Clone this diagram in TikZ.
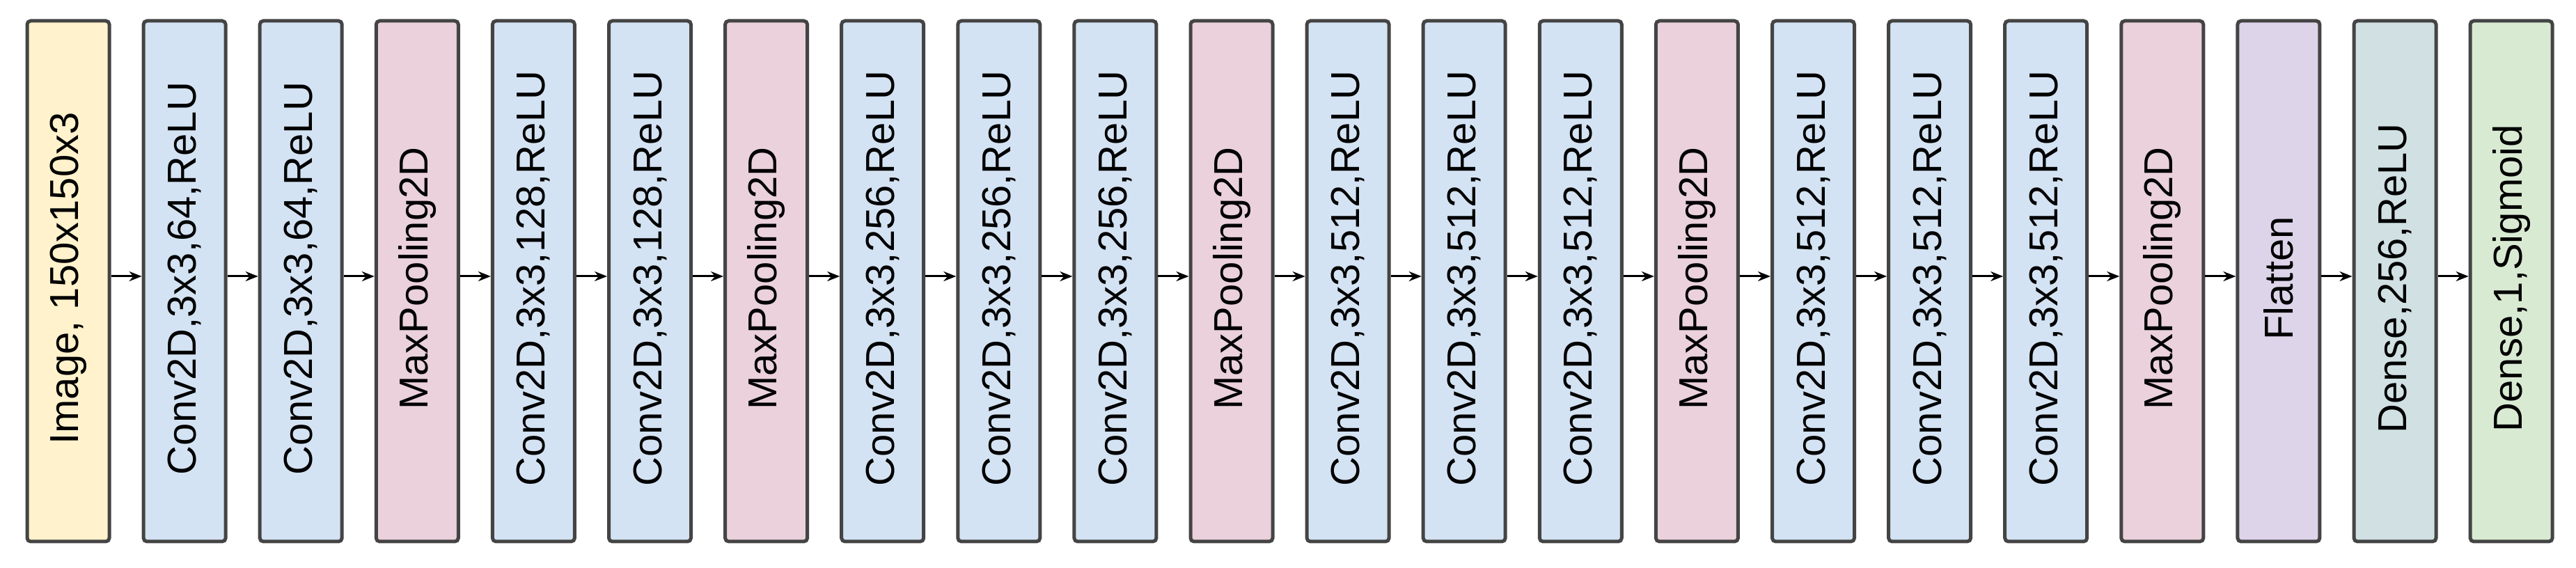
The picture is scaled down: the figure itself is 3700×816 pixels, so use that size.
\documentclass[tikz,border=0pt]{standalone}
\usepackage{fontspec}
\setmainfont{Liberation Sans}
\usetikzlibrary{arrows.meta}
\definecolor{cimg}{HTML}{FFF2CC}
\definecolor{cconv}{HTML}{D4E3F3}
\definecolor{cpool}{HTML}{EAD1DC}
\definecolor{cflat}{HTML}{DDD4EA}
\definecolor{cdr}{HTML}{D0E0E3}
\definecolor{cds}{HTML}{D9EAD3}
\definecolor{cbord}{HTML}{444444}
\begin{document}
\begin{tikzpicture}[x=1pt,y=1pt,
  blk/.style={draw=cbord,line width=5pt,rounded corners=5pt,minimum width=118pt,minimum height=748pt,inner sep=0pt},
  lbl/.style={rotate=90,font=\fontsize{58}{62}\selectfont},
  arr/.style={line width=3pt,-{Stealth[length=18pt,width=14pt]}}]
\useasboundingbox (0,0) rectangle (3700,816);
\def\layers{cimg/{Image, 150x150x3},cconv/{Conv2D,3x3,64,ReLU},cconv/{Conv2D,3x3,64,ReLU},cpool/MaxPooling2D,cconv/{Conv2D,3x3,128,ReLU},cconv/{Conv2D,3x3,128,ReLU},cpool/MaxPooling2D,cconv/{Conv2D,3x3,256,ReLU},cconv/{Conv2D,3x3,256,ReLU},cconv/{Conv2D,3x3,256,ReLU},cpool/MaxPooling2D,cconv/{Conv2D,3x3,512,ReLU},cconv/{Conv2D,3x3,512,ReLU},cconv/{Conv2D,3x3,512,ReLU},cpool/MaxPooling2D,cconv/{Conv2D,3x3,512,ReLU},cconv/{Conv2D,3x3,512,ReLU},cconv/{Conv2D,3x3,512,ReLU},cpool/MaxPooling2D,cflat/Flatten,cdr/{Dense,256,ReLU},cds/{Dense,1,Sigmoid}}
\foreach [count=\i] \c/\t in \layers {
  \node[blk,fill=\c] (b\i) at ({98+(\i-1)*167.1},412) {};
  \node[lbl] (t\i) at ([yshift=4pt]b\i.center) {\t};
}
\foreach \i [evaluate=\i as \j using int(\i+1)] in {1,...,21} {
  \draw[arr] ([yshift=7pt]b\i.east) -- ([yshift=7pt]b\j.west);
}
\end{tikzpicture}
\end{document}
